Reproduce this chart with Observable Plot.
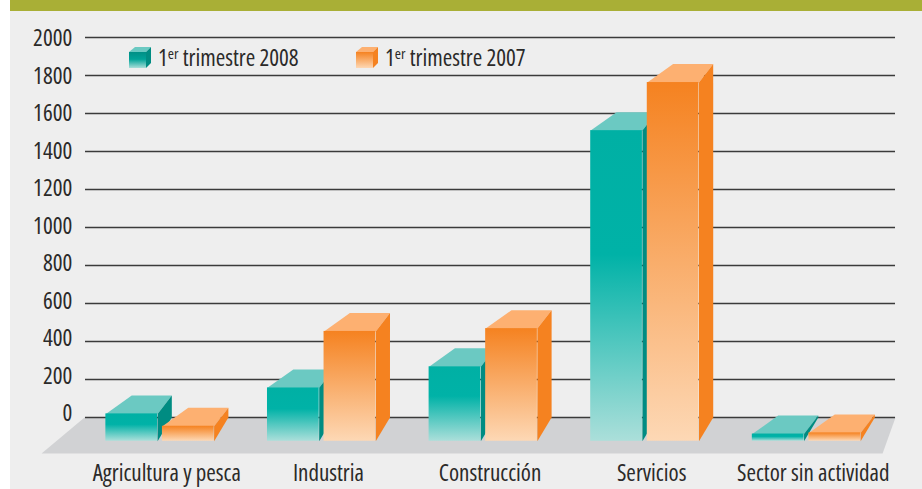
<!DOCTYPE html>
<html><head><meta charset="utf-8">
<script src="https://cdn.jsdelivr.net/npm/d3@7"></script>
<script src="https://cdn.jsdelivr.net/npm/@observablehq/plot@0.6"></script>
<style>
html,body{margin:0;padding:0;background:#fff;}
#wrap{position:relative;width:922px;height:489px;overflow:hidden;font-family:"Open Sans",sans-serif;font-stretch:condensed;color:#2b2a29;}
#bg{position:absolute;left:10px;top:0;right:0;bottom:0;background:#eeeeee;}
#band{position:absolute;left:10px;top:0;right:0;height:11px;background:#a9af36;}
#chart{position:absolute;left:0;top:0;}
#chart svg{background:transparent;display:block;}
.key{position:absolute;top:43px;font-size:23px;line-height:28px;white-space:nowrap;}
.key sup{font-size:15px;line-height:0;vertical-align:baseline;position:relative;top:-7px;}
.sw{position:absolute;top:47px;}
</style></head><body>
<div id="wrap"><div id="bg"></div><div id="band"></div><div id="chart"></div>
<svg class="sw" style="left:129px" width="22" height="22"><defs><linearGradient id="k1" x1="0" x2="0" y1="0" y2="1"><stop offset="0" stop-color="#008f85"/><stop offset=".45" stop-color="#00a297"/><stop offset="1" stop-color="#a9ded9"/></linearGradient><linearGradient id="k2" x1="0" x2="0" y1="0" y2="1"><stop offset="0" stop-color="#f58220"/><stop offset="1" stop-color="#fdd7b3"/></linearGradient></defs><path d="M0 5L6 0H22L17 5Z" fill="#6bc9c2"/><path d="M17 5L22 0V16L17 21Z" fill="#008c82"/><rect x="0" y="5" width="17" height="16" fill="url(#k1)"/></svg>
<div class="key" style="left:158px">1<sup>er</sup> trimestre 2008</div>
<svg class="sw" style="left:356px" width="22" height="22"><path d="M0 5L6 0H22L17 5Z" fill="#fdb071"/><path d="M17 5L22 0V16L17 21Z" fill="#f58220"/><rect x="0" y="5" width="17" height="16" fill="url(#k2)"/></svg>
<div class="key" style="left:385px">1<sup>er</sup> trimestre 2007</div>
</div>
<script>
const categories = ["Agricultura y pesca","Industria","Construcción","Servicios","Sector sin actividad"];
const trimestre2008 = [144, 281, 392, 1635, 38];
const trimestre2007 = [79, 578, 593, 1888, 44];
const yTicks = [0,200,400,600,800,1000,1200,1400,1600,1800,2000];

const base = -125, topRise = 97, baseRise = 125;
const w = 0.32, gap = 0.015, dl = 0.16, dr = 0.088;

function faces(values, side) {
  const x0 = i => side === 0 ? i - gap - w : i + gap;
  return {
    front: values.map((v,i)=>({x1:x0(i), x2:x0(i)+w, y1:base, y2:base+v})),
    top: values.flatMap((v,i)=>[
      {f:i,x:x0(i),y:base+v},{f:i,x:x0(i)+dl,y:base+v+topRise},
      {f:i,x:x0(i)+w+dr,y:base+v+topRise},{f:i,x:x0(i)+w,y:base+v}]),
    side: values.flatMap((v,i)=>[
      {f:i,x:x0(i)+w,y:base+v},{f:i,x:x0(i)+w+dr,y:base+v+topRise},
      {f:i,x:x0(i)+w+dr,y:base+baseRise},{f:i,x:x0(i)+w,y:base}])
  };
}
const floor = [{x:-0.467,y:0},{x:4.551,y:0},{x:4.471,y:-189},{x:-0.733,y:-189}];

function series(values, side, topC, sideC, grad) {
  const f = faces(values, side);
  return [
    Plot.line(f.top,{x:"x",y:"y",z:"f",fill:topC,stroke:"none"}),
    Plot.line(f.side,{x:"x",y:"y",z:"f",fill:sideC,stroke:"none"}),
    Plot.rect(f.front,{x1:"x1",x2:"x2",y1:"y1",y2:"y2",fill:`url(#${grad})`})
  ];
}
function defs() {
  const g = document.createElementNS("http://www.w3.org/2000/svg","defs");
  g.innerHTML = `<linearGradient id="gT" x1="0" x2="0" y1="0" y2="1"><stop offset="0" stop-color="#00b0a4"/><stop offset=".4" stop-color="#00b2a7"/><stop offset="1" stop-color="#abdfda"/></linearGradient>
  <linearGradient id="gO" x1="0" x2="0" y1="0" y2="1"><stop offset="0" stop-color="#f58220"/><stop offset="1" stop-color="#fdd8b5"/></linearGradient>`;
  return g;
}
const chart = Plot.plot({
  width:922,height:489,margin:0,
  style:{background:"transparent",color:"#2b2a29",fontFamily:"'Open Sans',sans-serif",fontStretch:"condensed"},
  x:{domain:[-0.987,4.718],range:[0,922],axis:null},
  y:{domain:[-378.9,2194.7],range:[489,0],axis:null},
  marks:[
    defs,
    Plot.line(floor,{x:"x",y:"y",fill:"#d1d2d4",stroke:"none"}),
    Plot.ruleY(yTicks,{x1:-0.461,x2:4.551,stroke:"#3a3a3a",strokeWidth:1.5}),
    Plot.text(yTicks,{text:d=>String(d),x:-0.543,y:d=>d*0.988+18,textAnchor:"end",fontSize:23,fill:"#2b2a29"}),
    ...series(trimestre2008,0,"#6bc9c2","#008c82","gT"),
    ...series(trimestre2007,1,"#fdb071","#f58220","gO"),
    Plot.text(categories,{text:d=>d,x:(d,i)=>i+0.042,y:-295,fontSize:23,fill:"#2b2a29"})
  ]
});
document.getElementById("chart").append(chart);
</script></body></html>
